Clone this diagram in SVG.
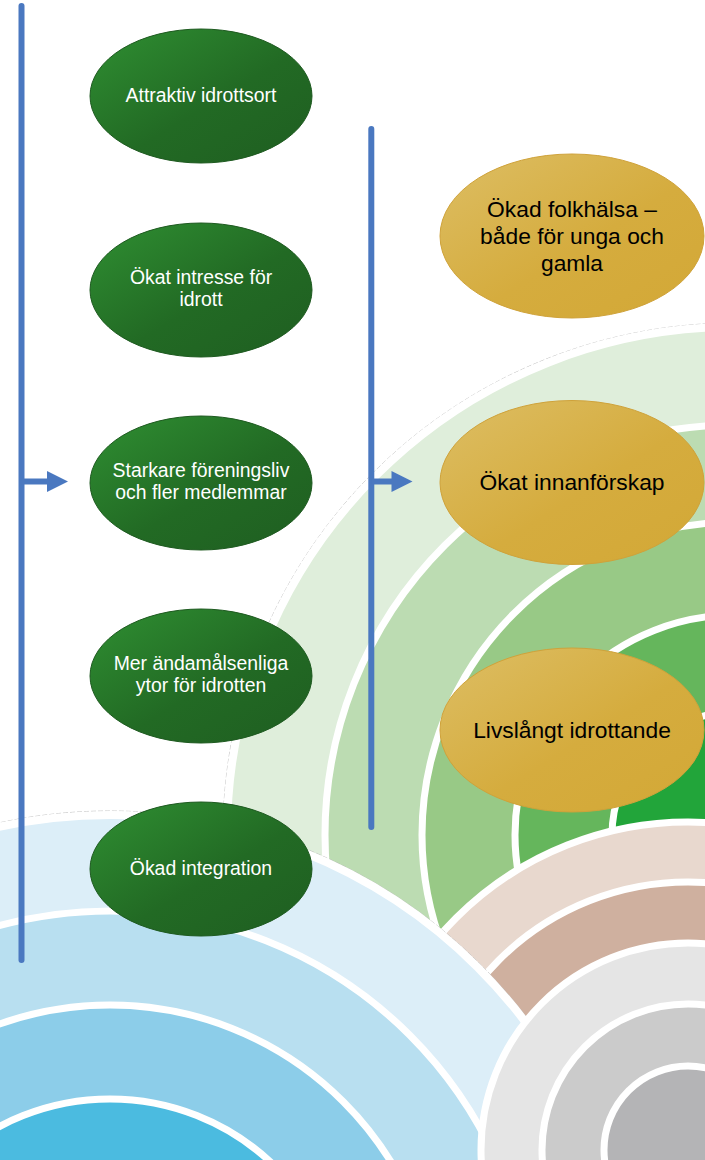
<svg xmlns="http://www.w3.org/2000/svg" width="705" height="1160" viewBox="0 0 705 1160">
<defs>
<style>
.sep{stroke:#ffffff;stroke-width:7}
.outer{stroke:#ffffff;stroke-width:8}
.faint{fill:none;stroke:#b9b9b9;stroke-width:0.8;stroke-dasharray:5 2}
.conn{stroke:#4a78c0;stroke-width:6;stroke-linecap:round;fill:none}
.head{fill:#4a78c0}
.gn{fill:url(#gGreen);stroke:#1e5a20;stroke-width:1}
.gd{fill:url(#gGold);stroke:#cfa23a;stroke-width:1}
.tw{font-family:"Liberation Sans",Arial,sans-serif;font-size:19.4px;fill:#ffffff;text-anchor:middle}
.tb{font-family:"Liberation Sans",Arial,sans-serif;font-size:22.8px;fill:#000000;text-anchor:middle}
</style>
<linearGradient id="gGreen" x1="0" y1="0" x2="1" y2="1">
<stop offset="0" stop-color="#2f8f32"/>
<stop offset="0.55" stop-color="#226a24"/>
<stop offset="1" stop-color="#1f5e21"/>
</linearGradient>
<linearGradient id="gGold" x1="0" y1="0" x2="1" y2="1">
<stop offset="0" stop-color="#ddbe64"/>
<stop offset="0.55" stop-color="#d5ac3e"/>
<stop offset="1" stop-color="#d3a836"/>
</linearGradient>
</defs>
<rect width="705" height="1160" fill="#ffffff"/>
<g id="background">
<g id="green-rings">
<circle cx="735" cy="835" r="512" class="faint"/>
<circle cx="735" cy="835" r="508" fill="#dfeedb" class="outer"/>
<circle cx="735" cy="835" r="410" fill="#bcdcb2" class="sep"/>
<circle cx="735" cy="835" r="313" fill="#98c986" class="sep"/>
<circle cx="735" cy="835" r="220" fill="#65b65c" class="sep"/>
<circle cx="735" cy="835" r="123" fill="#22a53a" class="sep"/>
</g>
<g id="brown-rings">
<circle cx="688" cy="1150" r="328" fill="#e8d8ce" class="sep"/>
<circle cx="688" cy="1150" r="268" fill="#cfb09f" class="sep"/>
</g>
<g id="blue-rings">
<circle cx="110" cy="1335" r="524" class="faint"/>
<circle cx="110" cy="1335" r="520" fill="#dceef8" class="outer"/>
<circle cx="110" cy="1335" r="424" fill="#b8dff0" class="sep"/>
<circle cx="110" cy="1335" r="330" fill="#8ccde9" class="sep"/>
<circle cx="110" cy="1335" r="236" fill="#4bbbe0" class="sep"/>
</g>
<g id="grey-rings">
<circle cx="688" cy="1150" r="207" fill="#e5e5e5" class="sep"/>
<circle cx="688" cy="1150" r="146" fill="#cbcbcb" class="sep"/>
<circle cx="688" cy="1150" r="84" fill="#b4b4b6" class="sep"/>
</g>
</g>
<g id="connectors">
<line x1="21.5" y1="6" x2="21.5" y2="960" class="conn"/>
<line x1="21.5" y1="481.5" x2="49" y2="481.5" class="conn" style="stroke-linecap:butt"/>
<polygon points="47,471 68,481.5 47,492" class="head"/>
<line x1="371.3" y1="129" x2="371.3" y2="827" class="conn"/>
<line x1="371.3" y1="481.5" x2="393" y2="481.5" class="conn" style="stroke-linecap:butt"/>
<polygon points="391.5,471 412.5,481.5 391.5,492" class="head"/>
</g>
<g id="n1"><ellipse cx="201" cy="96" rx="111" ry="67" class="gn"/><text x="201" y="102" class="tw">Attraktiv idrottsort</text></g>
<g id="n2"><ellipse cx="201" cy="290" rx="111" ry="67" class="gn"/><text x="201" y="284" class="tw">Ökat intresse för</text><text x="201" y="306" class="tw">idrott</text></g>
<g id="n3"><ellipse cx="201" cy="483" rx="111" ry="67" class="gn"/><text x="201" y="477" class="tw">Starkare föreningsliv</text><text x="201" y="499" class="tw">och fler medlemmar</text></g>
<g id="n4"><ellipse cx="201" cy="676" rx="111" ry="67" class="gn"/><text x="201" y="670" class="tw">Mer ändamålsenliga</text><text x="201" y="692" class="tw">ytor för idrotten</text></g>
<g id="n5"><ellipse cx="201" cy="869" rx="111" ry="67" class="gn"/><text x="201" y="875" class="tw">Ökad integration</text></g>
<g id="g1"><ellipse cx="572" cy="236" rx="132" ry="82" class="gd"/><text x="572" y="217" class="tb">Ökad folkhälsa –</text><text x="572" y="244" class="tb">både för unga och</text><text x="572" y="271" class="tb">gamla</text></g>
<g id="g2"><ellipse cx="572" cy="482.5" rx="132" ry="82" class="gd"/><text x="572" y="490" class="tb">Ökat innanförskap</text></g>
<g id="g3"><ellipse cx="572" cy="730" rx="132" ry="82" class="gd"/><text x="572" y="737.5" class="tb">Livslångt idrottande</text></g>
</svg>
